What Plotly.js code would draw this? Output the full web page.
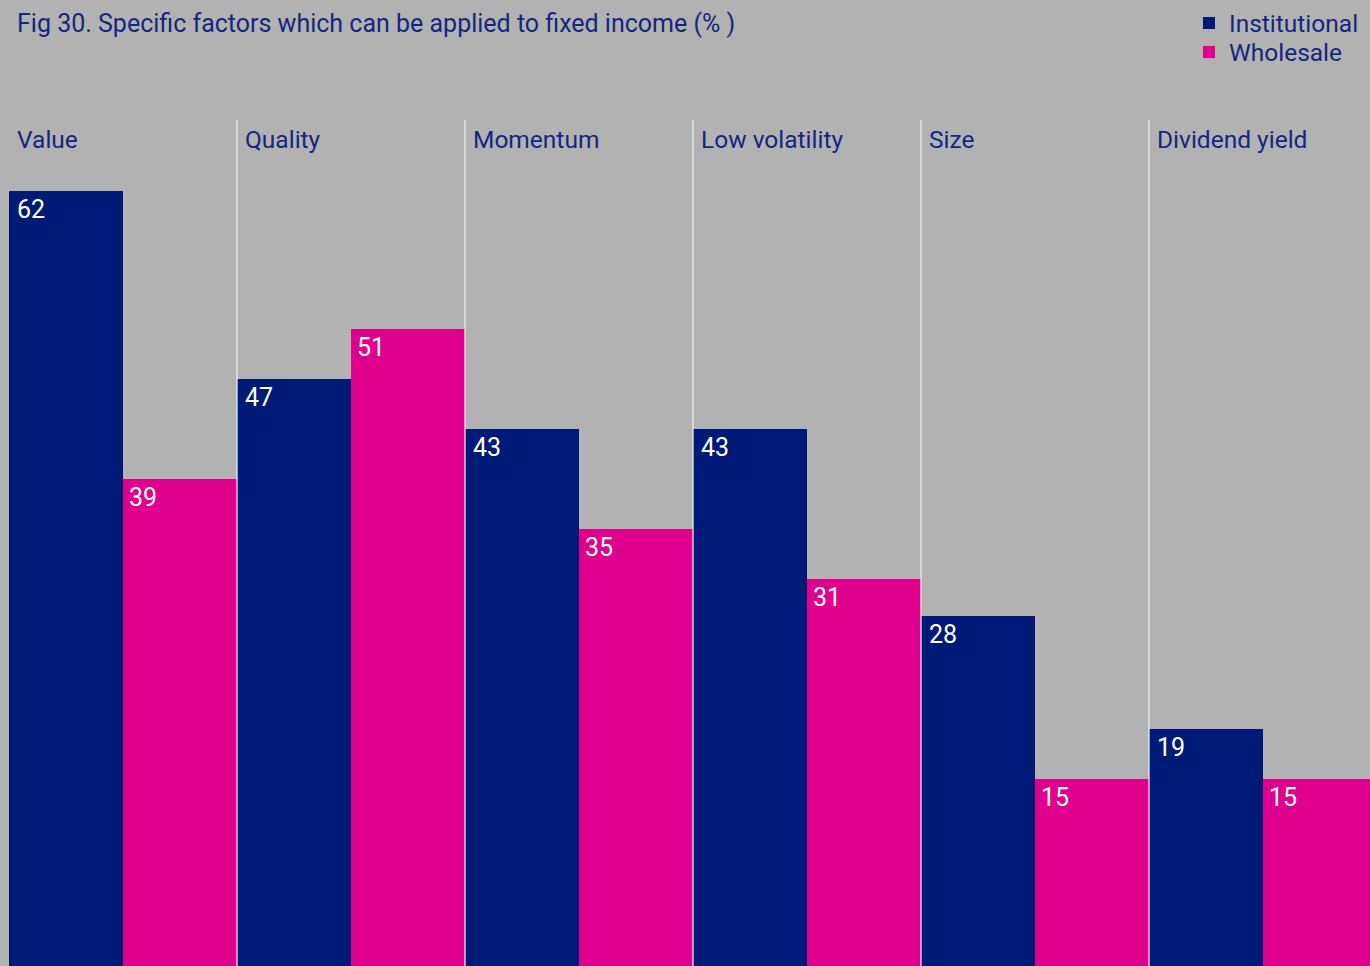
<!DOCTYPE html>
<html>
<head>
<meta charset="utf-8">
<script src="https://cdn.plot.ly/plotly-3.0.1.min.js"></script>
<style>
html,body{margin:0;padding:0;background:#b2b2b2;overflow:hidden;}
#chart{width:1370px;height:966px;}
</style>
</head>
<body>
<div id="chart"></div>
<script>
const categories = ["Value", "Quality", "Momentum", "Low volatility", "Size", "Dividend yield"];
const institutional = [62, 47, 43, 43, 28, 19];
const wholesale = [39, 51, 35, 31, 15, 15];
const seriesNames = ["Institutional", "Wholesale"];
const titleText = "Fig 30. Specific factors which can be applied to fixed income (% )";

const NAVY = "#001a78";
const MAGENTA = "#e0008e";
const TEXT = "#15267f";
const FONT = "Roboto, 'Open Sans', sans-serif";

const traces = [
  {type: "bar", name: seriesNames[0], x: categories, y: institutional, legend: "legend",
   marker: {color: NAVY, line: {width: 0}}, hoverinfo: "skip"},
  {type: "bar", name: seriesNames[1], x: categories, y: wholesale, legend: "legend2",
   marker: {color: MAGENTA, line: {width: 0}}, hoverinfo: "skip"}
];

const W = 1370, H = 966;
const annotations = [];
const shapes = [];
categories.forEach((c, i) => {
  annotations.push({xref: "x", yref: "paper", x: i - 0.5, y: 1 - 140 / H, xanchor: "left", yanchor: "middle",
    xshift: 6, text: c, showarrow: false, font: {family: FONT, size: 24.5, color: TEXT}});
  annotations.push({xref: "x", yref: "y", x: i - 0.5, y: institutional[i], xanchor: "left", yanchor: "top",
    xshift: 6, yshift: -2, text: String(institutional[i]), showarrow: false, font: {family: FONT, size: 25, color: "#ffffff"}});
  annotations.push({xref: "x", yref: "y", x: i, y: wholesale[i], xanchor: "left", yanchor: "top",
    xshift: 4, yshift: -2, text: String(wholesale[i]), showarrow: false, font: {family: FONT, size: 25, color: "#ffffff"}});
  if (i > 0) {
    shapes.push({type: "line", xref: "x", yref: "paper", x0: i - 0.5, x1: i - 0.5, y0: 0, y1: 1 - 120 / H,
      layer: "above", line: {color: "rgba(236,236,236,0.85)", width: 1.5}});
  }
});

const colW = 228;
const xmin = -0.5 - 9 / colW;
const xmax = xmin + W / colW;
const ymax = H / 12.5;

const legendBase = {x: 1189 / W, xanchor: "left", yanchor: "middle", bgcolor: "rgba(0,0,0,0)",
  font: {family: FONT, size: 24.5, color: TEXT}, itemwidth: 30, borderwidth: 0};

const layout = {
  width: W, height: H,
  paper_bgcolor: "#b2b2b2", plot_bgcolor: "#b2b2b2",
  margin: {l: 0, r: 0, t: 0, b: 0, pad: 0},
  barmode: "group", bargap: 0, bargroupgap: 0,
  font: {family: FONT, color: TEXT},
  title: {text: titleText, x: 17 / W, xref: "paper", xanchor: "left", y: 1 - 23 / H, yref: "container", yanchor: "middle",
    font: {family: FONT, size: 25, color: TEXT}},
  xaxis: {range: [xmin, xmax], visible: false, fixedrange: true},
  yaxis: {range: [0, ymax], visible: false, fixedrange: true},
  showlegend: true,
  legend: Object.assign({}, legendBase, {y: 1 - 23 / H}),
  legend2: Object.assign({}, legendBase, {y: 1 - 52 / H}),
  annotations: annotations,
  shapes: shapes,
  hovermode: false
};

Plotly.newPlot("chart", traces, layout, {staticPlot: true, displayModeBar: false});
</script>
</body>
</html>
